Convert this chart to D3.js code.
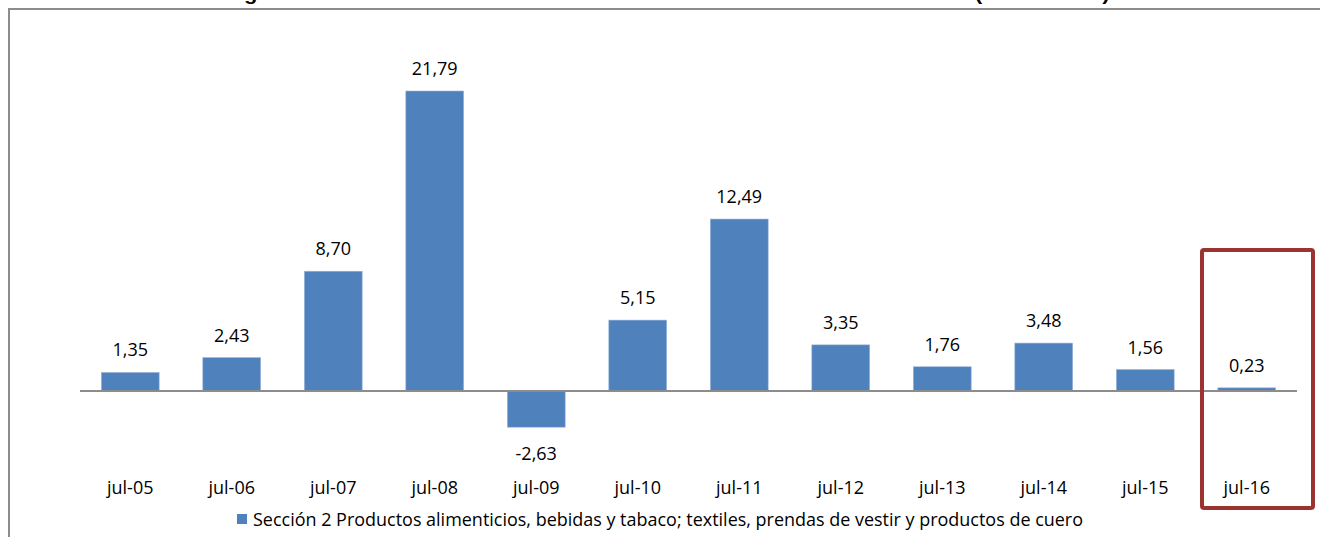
<!DOCTYPE html>
<html><head><meta charset="utf-8">
<script src="https://cdn.jsdelivr.net/npm/d3@7"></script>
<style>html,body{margin:0;padding:0;background:#fff;overflow:hidden}</style>
</head><body>
<svg id="c" width="1320" height="537" style="display:block"></svg>
<script>
const categories = ["jul-05","jul-06","jul-07","jul-08","jul-09","jul-10","jul-11","jul-12","jul-13","jul-14","jul-15","jul-16"];
const values = [1.35, 2.43, 8.70, 21.79, -2.63, 5.15, 12.49, 3.35, 1.76, 3.48, 1.56, 0.23];
const seriesName = "Sección 2 Productos alimenticios, bebidas y tabaco; textiles, prendas de vestir y productos de cuero";
const title = "Figura 3. Variación interanual de los meses acumulados de la Sección II (Enero-Julio)";

const svg = d3.select("#c");
const font = "'Open Sans', sans-serif";

// title (partially cut off at top, as in the reference)
svg.append("text").attr("x", 667).attr("y", 0).attr("text-anchor", "middle")
  .attr("font-family", "'Liberation Sans', Arial, sans-serif").attr("font-weight", "bold")
  .attr("font-size", 18).attr("textLength", 885).attr("lengthAdjust", "spacingAndGlyphs")
  .text(title);

// chart frame
svg.append("path").attr("d", "M9,537 L9,9 L1320,9").attr("fill", "none")
  .attr("stroke", "#8c8c8c").attr("stroke-width", 2);

const x = d3.scaleBand().domain(categories).range([80, 1297]).paddingInner(0.43).paddingOuter(0.21);
const y = d3.scaleLinear().domain([-2.63, 21.79]).range([427.2, 91]);
const fmt = v => d3.format(".2f")(v).replace(".", ",").replace("−", "-");

svg.append("g").selectAll("rect").data(values).join("rect")
  .attr("x", (d, i) => x(categories[i]))
  .attr("width", x.bandwidth())
  .attr("y", d => y(Math.max(0, d)))
  .attr("height", d => Math.abs(y(d) - y(0)))
  .attr("fill", "#4f81bd").attr("stroke", "#9bb7dd").attr("stroke-width", 0.6);

// zero axis line
svg.append("line").attr("x1", 80).attr("x2", 1297).attr("y1", y(0)).attr("y2", y(0))
  .attr("stroke", "#8c8c8c").attr("stroke-width", 2);

// value labels
svg.append("g").selectAll("text").data(values).join("text")
  .attr("x", (d, i) => x(categories[i]) + x.bandwidth() / 2)
  .attr("y", d => d >= 0 ? y(d) - 16 : y(d) + 33)
  .attr("text-anchor", "middle").attr("font-family", font).attr("font-size", 18)
  .attr("fill", "#000").text(d => fmt(d));

// category axis labels
const xAxis = d3.axisBottom(x).tickSize(0).tickPadding(0);
const gx = svg.append("g").attr("transform", "translate(0,488)").call(xAxis);
gx.select(".domain").remove();
gx.selectAll("text").attr("font-family", font).attr("font-size", 18).attr("fill", "#000").attr("dy", "0.32em");

// legend
svg.append("rect").attr("x", 237).attr("y", 514).attr("width", 10).attr("height", 10).attr("fill", "#4f81bd");
svg.append("text").attr("x", 253).attr("y", 526).attr("font-family", font).attr("font-size", 17.5)
  .attr("textLength", 830).attr("lengthAdjust", "spacingAndGlyphs").text(seriesName);

// highlight box
svg.append("rect").attr("x", 1202).attr("y", 250).attr("width", 111).attr("height", 258)
  .attr("rx", 2).attr("fill", "none").attr("stroke", "#9b3431").attr("stroke-width", 4);
</script>
</body></html>
